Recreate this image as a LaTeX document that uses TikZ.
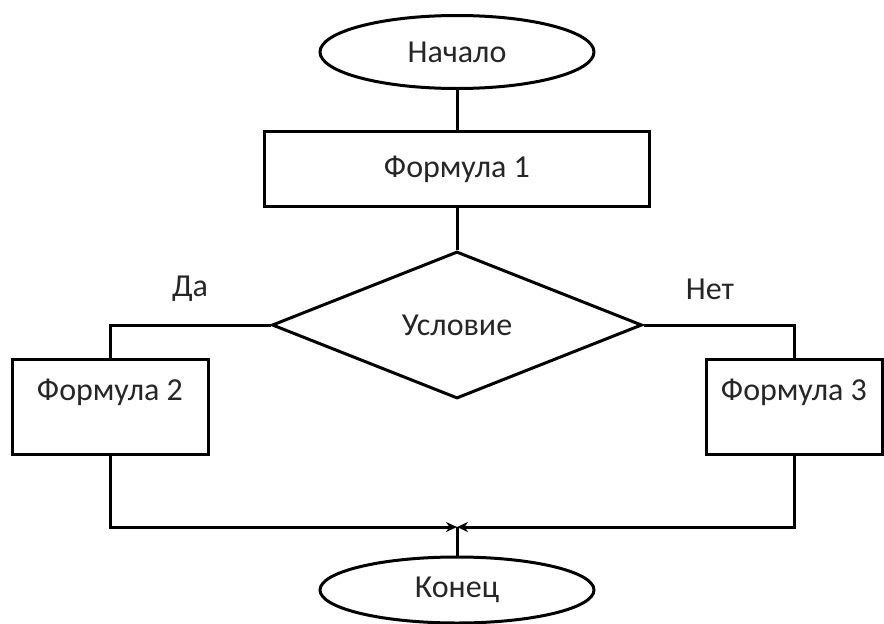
\documentclass[tikz,border=0pt]{standalone}
\usepackage{fontspec}
\setmainfont{Carlito}
\usetikzlibrary{arrows.meta,positioning,shapes.geometric}

\begin{document}
\begin{tikzpicture}[
  x=1pt, y=-1pt,
  every node/.style={font=\fontsize{32}{38}\selectfont, text=black!85},
  term/.style={draw=black, ellipse, line width=3pt, minimum width=274pt,
               minimum height=73pt, inner sep=0pt},
  proc/.style={draw=black, rectangle, line width=3pt, minimum width=385pt,
               minimum height=75pt},
  side/.style={proc, minimum height=95pt, text height=22pt, text depth=36pt},
  cond/.style={draw=black, diamond, line width=3pt, minimum width=370pt,
               minimum height=147pt, inner sep=0pt},
  line/.style={line width=3pt},
  arr/.style={line width=3pt, -{Stealth[length=11pt, width=10pt]}},
]
  \useasboundingbox (0,0) rectangle (884,624);

  \node[term] (start) at (457,52) {Начало};
  \node[proc, below=40pt of start] (f1) {Формула 1};
  \node[cond, below=42pt of f1] (check) {Условие};
  \node[side, minimum width=196pt] (f2) at (110,407) {Формула 2};
  \node[side, minimum width=176pt] (f3) at (794,407) {Формула 3};
  \node[term, minimum height=66pt] (stop) at (457,590) {Конец};
  \coordinate (join) at (457,527);

  \node (yes) at (190,289) {Да};
  \node (no) at (710,289) {Нет};

  \draw[line] (start) -- (f1);
  \draw[line] (f1) -- (check);
  \draw[line] (check.west) -| (f2.north);
  \draw[line] (check.east) -| (f3.north);
  \draw[arr] (f2.south) |- (join);
  \draw[arr] (f3.south) |- (join);
  \draw[line] (join) -- (stop);
\end{tikzpicture}
\end{document}
